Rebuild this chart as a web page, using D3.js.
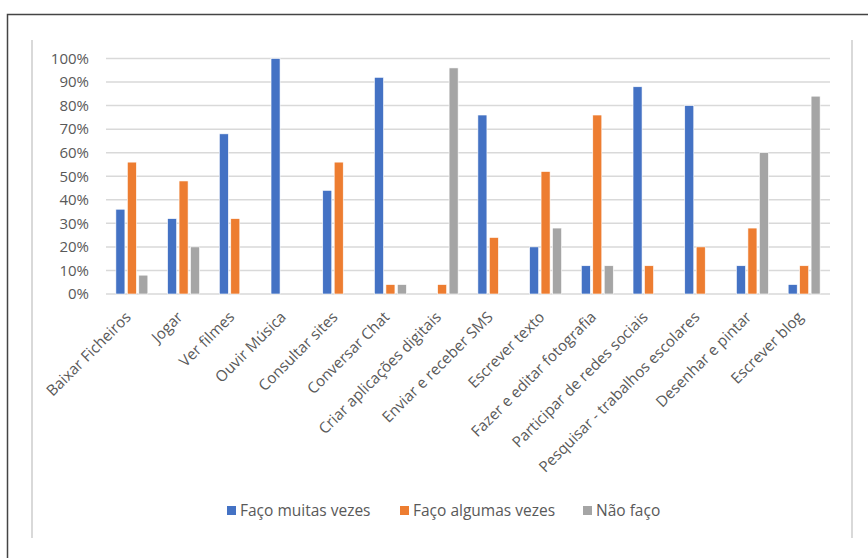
<!DOCTYPE html>
<meta charset="utf-8">
<style>
    body {
        margin: 0;
        background: #fff;
    }
    text {
        font-family: "Open Sans", sans-serif;
        fill: #595959;
    }
</style>
<body>
<script src="https://d3js.org/d3.v7.min.js"></script>
<script>
    var categories = ["Baixar Ficheiros", "Jogar", "Ver filmes", "Ouvir Música", "Consultar sites",
        "Conversar Chat", "Criar aplicações digitais", "Enviar e receber SMS", "Escrever texto",
        "Fazer e editar fotografia", "Participar de redes sociais", "Pesquisar - trabalhos escolares",
        "Desenhar e pintar", "Escrever blog"];
    var seriesNames = ["Faço muitas vezes", "Faço algumas vezes", "Não faço"];
    var muitas = [36, 32, 68, 100, 44, 92, 0, 76, 20, 12, 88, 80, 12, 4];
    var algumas = [56, 48, 32, 0, 56, 4, 4, 24, 52, 76, 12, 20, 28, 12];
    var naoFaco = [8, 20, 0, 0, 0, 4, 96, 0, 28, 12, 0, 0, 60, 84];
    var yTicks = [0, 10, 20, 30, 40, 50, 60, 70, 80, 90, 100];
    var colors = ["#4472c4", "#ed7d31", "#a5a5a5"];

    var W = 868, H = 558;
    var plotLeft = 106, plotRight = 830, plotTop = 58.5, plotBottom = 294;

    var svg = d3.select("body").append("svg")
        .attr("width", W)
        .attr("height", H);

    // outer frame
    svg.append("path")
        .attr("d", "M7.5," + H + "V14.5H" + W)
        .attr("fill", "none")
        .attr("stroke", "#444")
        .attr("stroke-width", 1.5);
    svg.append("line").attr("x1", 32).attr("x2", 32).attr("y1", 40).attr("y2", 538)
        .attr("stroke", "#d9d9d9").attr("stroke-width", 2);
    svg.append("line").attr("x1", 852).attr("x2", 852).attr("y1", 40).attr("y2", 538)
        .attr("stroke", "#d9d9d9").attr("stroke-width", 2);

    var x = d3.scaleBand()
        .domain(categories)
        .range([plotLeft, plotRight])
        .padding(0);
    var y = d3.scaleLinear()
        .domain([0, 100])
        .range([plotBottom, plotTop]);

    // Excel style: gap width 219%, overlap -27%
    var bw = x.bandwidth() / (3 + 2 * 0.27 + 2.19);
    var step = bw * 1.27;
    var groupW = 3 * bw + 2 * 0.27 * bw;

    // gridlines
    svg.append("g")
        .selectAll("line")
        .data(yTicks)
        .enter().append("line")
        .attr("x1", plotLeft)
        .attr("x2", plotRight)
        .attr("y1", function(d) { return y(d); })
        .attr("y2", function(d) { return y(d); })
        .attr("stroke", "#d9d9d9")
        .attr("stroke-width", 1.5);

    var yAxis = d3.axisLeft(y)
        .tickValues(yTicks)
        .tickSize(0)
        .tickPadding(0)
        .tickFormat(function(d) { return d + "%"; });
    var gy = svg.append("g")
        .attr("transform", "translate(89,0)")
        .call(yAxis);
    gy.select(".domain").remove();
    gy.selectAll("text")
        .style("font-family", "'Open Sans', sans-serif")
        .style("font-size", "15px")
        .style("fill", "#595959");

    var series = [muitas, algumas, naoFaco];
    series.forEach(function(vals, s) {
        svg.append("g")
            .selectAll("rect")
            .data(vals)
            .enter().append("rect")
            .attr("x", function(d, i) {
                return x(categories[i]) + (x.bandwidth() - groupW) / 2 + s * step;
            })
            .attr("y", function(d) { return y(d); })
            .attr("width", bw)
            .attr("height", function(d) { return plotBottom - y(d); })
            .attr("fill", colors[s])
            .attr("stroke", "#fff")
            .attr("stroke-width", 0.6);
    });

    // x labels
    var xAxis = d3.axisBottom(x).tickSize(0).tickPadding(0);
    var gx = svg.append("g")
        .attr("transform", "translate(0," + plotBottom + ")")
        .call(xAxis);
    gx.select(".domain").remove();
    gx.selectAll("text")
        .style("font-family", "'Open Sans', sans-serif")
        .style("font-size", "15.2px")
        .style("fill", "#595959")
        .attr("text-anchor", "end")
        .attr("y", 0)
        .attr("dy", "0")
        .attr("transform", "translate(0,24) rotate(-45)");

    // legend
    var legendItems = [
        { x: 227, name: seriesNames[0], c: colors[0] },
        { x: 400, name: seriesNames[1], c: colors[1] },
        { x: 583, name: seriesNames[2], c: colors[2] }
    ];
    var legend = svg.append("g")
        .selectAll("g")
        .data(legendItems)
        .enter().append("g")
        .attr("transform", function(d) { return "translate(" + d.x + ",511)"; });
    legend.append("rect")
        .attr("x", 0)
        .attr("y", -5)
        .attr("width", 9)
        .attr("height", 9)
        .attr("fill", function(d) { return d.c; });
    legend.append("text")
        .attr("x", 13)
        .attr("y", 0)
        .attr("dy", "0.35em")
        .style("font-size", "15.5px")
        .text(function(d) { return d.name; });
</script>
</body>
